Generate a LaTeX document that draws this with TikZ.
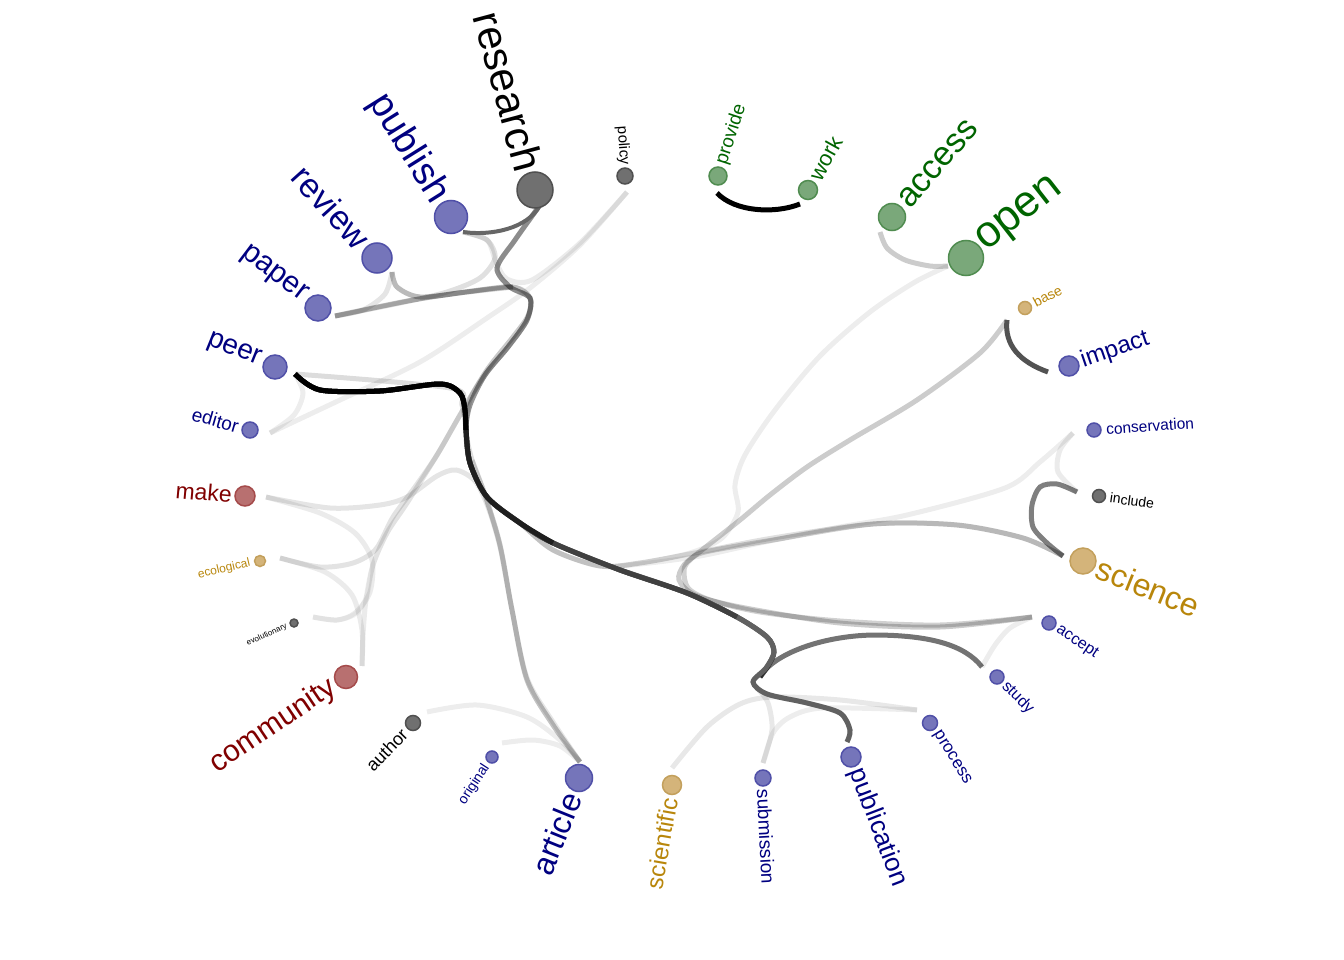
\documentclass[tikz,border=0pt]{standalone}
\usepackage{fontspec}
\setmainfont{Liberation Sans}
\usetikzlibrary{calc}
\definecolor{bfill}{RGB}{117,117,186}\definecolor{bdraw}{RGB}{80,80,168}
\definecolor{gfill}{RGB}{112,112,112}\definecolor{gdraw}{RGB}{80,80,80}
\definecolor{nfill}{RGB}{122,168,122}\definecolor{ndraw}{RGB}{80,140,80}
\definecolor{ofill}{RGB}{212,180,122}\definecolor{odraw}{RGB}{195,160,92}
\definecolor{rfill}{RGB}{184,112,112}\definecolor{rdraw}{RGB}{165,75,75}
\definecolor{tblue}{RGB}{0,0,128}\definecolor{tgreen}{RGB}{0,100,0}
\definecolor{tgold}{RGB}{184,134,11}\definecolor{tred}{RGB}{128,0,0}
\newcommand\labL[6]{\node[lab,text=#6,font=\fontsize{#5}{#5}\selectfont,rotate=#2,anchor=east] (#1-t) at ($(#1)+({180-(#2)}:#3)$) {#4};}
\newcommand\labR[6]{\node[lab,text=#6,font=\fontsize{#5}{#5}\selectfont,rotate=#2,anchor=west] (#1-t) at ($(#1)+({-(#2)}:#3)$) {#4};}
\tikzset{
  lab/.style={inner sep=0pt},
  dot/.style={circle,inner sep=0pt,line width=1.5pt},
  nb/.style={dot,fill=bfill,draw=bdraw},
  ng/.style={dot,fill=gfill,draw=gdraw},
  nn/.style={dot,fill=nfill,draw=ndraw},
  no/.style={dot,fill=ofill,draw=odraw},
  nr/.style={dot,fill=rfill,draw=rdraw},
  e/.style={line width=5pt,draw=black,draw opacity=#1},
  e/.default=0.2
}
\begin{document}
\begin{tikzpicture}[x=1pt,y=-1pt]
\useasboundingbox (0,0) rectangle (1344,960);
% edge end points
\coordinate (research-i) at (540,205);
\coordinate (publish-i) at (463,232);
\coordinate (review-i) at (392,272);
\coordinate (paper-i) at (335,316);
\coordinate (peer-i) at (295,374);
\coordinate (editor-i) at (270,433);
\coordinate (make-i) at (266,497);
\coordinate (ecological-i) at (280,558);
\coordinate (evolutionary-i) at (313,617);
\coordinate (community-i) at (362,666);
\coordinate (author-i) at (427,712);
\coordinate (original-i) at (502,743);
\coordinate (article-i) at (580,762);
\coordinate (scientific-i) at (672,768);
\coordinate (submission-i) at (763,763);
\coordinate (publication-i) at (847,742);
\coordinate (process-i) at (917,710);
\coordinate (study-i) at (982,667);
\coordinate (accept-i) at (1032,617);
\coordinate (science-i) at (1063,556);
\coordinate (include-i) at (1077,492);
\coordinate (conservation-i) at (1073,433);
\coordinate (impact-i) at (1048,372);
\coordinate (base-i) at (1007,320);
\coordinate (open-i) at (948,266);
\coordinate (access-i) at (880,232);
\coordinate (work-i) at (800,204);
\coordinate (provide-i) at (717,193);
\coordinate (policy-i) at (627,192);
\coordinate (sj) at (760,677);
% ---- light edges
\draw[e=0.07] plot[smooth] coordinates {(open-i) (915,282) (870,312) (820,356) (775,410) (745,455) (735,485) (738,512) (722,538) (690,553) (640,563) (600,566) (553,550) (520,523) (487,497) (470,463) (466,430) (462,405) (450,388) (peer-i)};
\draw[e=0.07] plot[smooth] coordinates {(conservation-i) (1040,462) (1005,488) (907,515) (840,527) (760,543) (700,556) (640,564) (600,566) (553,550) (520,523) (487,497) (470,463) (466,430) (462,405) (450,388) (peer-i)};
\draw[e=0.08] plot[smooth] coordinates {(conservation-i) (1060,450) (1058,472) (include-i)};
\draw[e=0.12] plot[smooth] coordinates {(science-i) (1023,538) (957,525) (873,524) (773,538) (700,552) (640,563) (600,566) (553,550) (520,523) (487,497) (470,463) (466,430)};
\draw[e=0.07] plot[smooth] coordinates {(editor-i) (340,400) (420,362) (487,318) (530,288) (580,245) (policy-i)};
\draw[e=0.08] plot[smooth] coordinates {(publish-i) (487,240) (496,262) (507,279) (532,280) (580,243) (policy-i)};
\draw[e=0.12] plot[smooth] coordinates {(publish-i) (487,240) (495,258) (480,278) (447,292) (400,303) (paper-i)};
\draw[e=0.1] plot[smooth] coordinates {(paper-i) (363,310) (385,294) (review-i)};
\draw[e=0.07] plot[smooth] coordinates {(peer-i) (303,393) (294,415) (editor-i)};
\draw[e=0.1] plot[smooth] coordinates {(make-i) (330,508) (380,505) (407,497) (437,476) (456,470) (475,481) (488,507) (500,547) (512,610) (527,678) (553,722) (article-i)};
\draw[e=0.08] plot[smooth] coordinates {(make-i) (320,513) (355,533) (372,560) (370,592) (355,613) (337,620) (evolutionary-i)};
\draw[e=0.08] plot[smooth] coordinates {(ecological-i) (325,572) (352,595) (362,630) (community-i)};
\draw[e=0.04] plot[smooth] coordinates {(evolutionary-i) (337,620) (357,613) (367,595) (373,565) (387,533) (407,503) (437,455) (460,415) (487,370) (513,337) (528,316) (530,298) (510,287) (497,268) (515,240) (research-i)};
\draw[e=0.11] plot[smooth] coordinates {(ecological-i) (320,567) (353,563) (376,549) (393,517) (415,487) (437,455) (460,415) (487,370) (513,337) (528,316) (530,298) (510,287) (497,268) (515,240) (research-i)};
\draw[e=0.08] plot[smooth] coordinates {(community-i) (363,635) (366,600) (373,565) (387,533) (407,503) (437,455) (460,415) (487,370) (513,337) (528,316) (530,298) (510,287) (497,268) (515,240) (research-i)};
\draw[e=0.07] plot[smooth] coordinates {(author-i) (477,705) (527,717) (560,740) (article-i)};
\draw[e=0.07] plot[smooth] coordinates {(original-i) (533,740) (560,746) (article-i)};
\draw[e=0.09] plot[smooth] coordinates {(scientific-i) (707,727) (740,704) (773,697) (840,700) (process-i)};
\draw[e=0.07] plot[smooth] coordinates {(submission-i) (773,733) (790,717) (823,708) (process-i)};
\draw[e=0.09] plot[smooth] coordinates {(submission-i) (772,730) (768,703) (757,688)};
\draw[e=0.07] plot[smooth] coordinates {(study-i) (995,645) (1010,628) (accept-i)};
% ---- medium edges
\draw[e=0.2] plot[smooth] coordinates {(access-i) (887,248) (905,260) (930,266) (open-i)};
\draw[e=0.2] plot[smooth] coordinates {(base-i) (980,353) (917,400) (850,440) (807,467) (770,495) (740,520) (702,550) (684,565) (679,580) (695,595) (740,607) (840,623) (940,627) (accept-i)};
\draw[e=0.18] plot[smooth] coordinates {(science-i) (1023,538) (957,525) (873,524) (773,540) (705,552) (690,560) (684,570) (688,588) (710,600) (760,612) (840,621) (940,625) (accept-i)};
\draw[e=0.13] plot[smooth] coordinates {(article-i) (553,725) (527,680) (512,610) (500,545) (485,495) (472,460) (466,430) (470,400) (487,372) (508,347) (527,320) (530,298) (510,287) (497,268) (515,240) (research-i)};
\draw[e=0.12] plot[smooth] coordinates {(article-i) (553,725) (527,680) (512,610) (500,545) (485,495) (472,460)};
\draw[e=0.14] plot[smooth] coordinates {(review-i) (397,287) (420,297) (467,292) (513,287) (530,298) (527,320) (508,347) (485,375) (470,405) (466,430) (470,463) (487,497) (520,523) (553,543) (620,570) (687,593) (737,617) (767,637) (774,652) (766,668) (753,682) (767,694) (807,703) (840,713) (850,730) (publication-i)};
\draw[e=0.15] plot[smooth] coordinates {(review-i) (397,287) (420,297) (467,292) (513,287)};
\draw[e=0.14] plot[smooth] coordinates {(paper-i) (413,300) (480,290) (513,287) (530,298) (527,320) (508,347) (485,375) (470,405) (466,430) (470,463) (487,497) (520,523) (553,543) (620,570) (687,593) (737,617) (767,637) (774,652) (768,666) (sj)};
\draw[e=0.15] plot[smooth] coordinates {(paper-i) (413,300) (480,290) (513,287)};
\draw[e=0.5] plot[smooth] coordinates {(include-i) (1057,484) (1040,487) (1032,505) (1033,527) (1047,543) (science-i)};
% research - study
\draw[e=0.2] plot[smooth] coordinates {(research-i) (515,240) (497,268) (510,287) (530,298) (527,320) (508,347) (485,375) (470,405) (466,430) (470,463) (487,497) (520,523) (553,543) (620,570)};
\draw[e=0.55] plot[smooth] coordinates {(620,570) (687,593) (737,617) (767,637) (774,652) (768,666) (sj)};
\draw[e=0.55] (sj) .. controls (772,655) and (820,636) .. (873,635) .. controls (930,635) and (965,645) .. (study-i);
% dark edges
\draw[line width=4pt,black!60] (publish-i) .. controls (490,236) and (528,229) .. (research-i);
\draw[line width=5pt,black!68] (base-i) .. controls (1004,345) and (1020,362) .. (impact-i);
\draw[line width=5pt,black] (provide-i) .. controls (735,212) and (775,214) .. (work-i);
% peer - publication with darkening gradient
\draw[line width=5pt,black!62] plot[smooth] coordinates {(peer-i) (320,390) (380,391) (440,384) (460,393) (465,410) (466,430) (470,463) (487,497) (520,523) (553,543) (620,570) (687,593) (737,617) (767,637) (774,652) (766,668) (753,682) (767,694) (807,703) (840,713) (850,730) (publication-i)};
\draw[line width=5pt,black!75] plot[smooth] coordinates {(peer-i) (320,390) (380,391) (440,384) (460,393) (465,410) (466,430) (470,463) (487,497) (520,523) (553,543) (620,570) (687,593) (737,617)};
\draw[line width=5pt,black!88] plot[smooth] coordinates {(peer-i) (320,390) (380,391) (440,384) (460,393) (465,410) (466,430) (470,463) (487,497) (520,523) (553,543)};
\draw[line width=5pt,black] plot[smooth] coordinates {(peer-i) (320,390) (380,391) (440,384) (460,393) (465,410) (466,430)};
% ---- nodes
\node[ng,minimum size=36pt] (research) at (535,190) {};
\node[ng,minimum size=16pt] (policy) at (625,176) {};
\node[nn,minimum size=18pt] (provide) at (718,176) {};
\node[nn,minimum size=19pt] (work) at (808,190) {};
\node[nn,minimum size=27pt] (access) at (892,217) {};
\node[nn,minimum size=35pt] (open) at (966,258) {};
\node[no,minimum size=13pt] (base) at (1025,308) {};
\node[nb,minimum size=20pt] (impact) at (1069,366) {};
\node[nb,minimum size=14pt] (conservation) at (1094,430) {};
\node[ng,minimum size=13pt] (include) at (1099,496) {};
\node[no,minimum size=26pt] (science) at (1083,561) {};
\node[nb,minimum size=14pt] (accept) at (1049,623) {};
\node[nb,minimum size=14pt] (study) at (997,677) {};
\node[nb,minimum size=15pt] (process) at (930,723) {};
\node[nb,minimum size=20pt] (publication) at (851,757) {};
\node[nb,minimum size=16pt] (submission) at (763,778) {};
\node[no,minimum size=19pt] (scientific) at (672,785) {};
\node[nb,minimum size=27pt] (article) at (579,778) {};
\node[nb,minimum size=12pt] (original) at (492,757) {};
\node[ng,minimum size=15pt] (author) at (413,723) {};
\node[nr,minimum size=23pt] (community) at (346,677) {};
\node[ng,minimum size=8pt] (evolutionary) at (294,623) {};
\node[no,minimum size=11pt] (ecological) at (260,561) {};
\node[nr,minimum size=20pt] (make) at (245,496) {};
\node[nb,minimum size=16pt] (editor) at (250,430) {};
\node[nb,minimum size=24pt] (peer) at (275,367) {};
\node[nb,minimum size=26pt] (paper) at (318,308) {};
\node[nb,minimum size=30pt] (review) at (377,258) {};
\node[nb,minimum size=33pt] (publish) at (451,217) {};
% ---- labels
\labL{research}{-75}{20}{research}{42}{black}
\labL{publish}{-58}{20}{publish}{38}{tblue}
\labL{review}{-48}{19}{review}{34}{tblue}
\labL{paper}{-37}{17}{paper}{30}{tblue}
\labL{peer}{-22}{16}{peer}{28}{tblue}
\labL{editor}{-16}{12}{editor}{19}{tblue}
\labL{make}{-5}{13}{make}{23}{tred}
\labL{ecological}{13}{10}{ecological}{12}{tgold}
\labL{evolutionary}{24}{8}{evolutionary}{8}{black}
\labL{community}{34}{15}{community}{30}{tred}
\labL{author}{46}{12}{author}{18}{black}
\labL{original}{57}{10}{original}{14}{tblue}
\labL{article}{68}{17}{article}{32}{tblue}
\labL{scientific}{80}{13}{scientific}{24}{tgold}
\labL{policy}{-86}{11}{policy}{15}{black}
\labR{submission}{-87}{11}{submission}{19}{tblue}
\labR{publication}{-69}{13}{publication}{26}{tblue}
\labR{process}{-58}{11}{process}{17}{tblue}
\labR{study}{-45}{10}{study}{16}{tblue}
\labR{accept}{-34}{10}{accept}{16}{tblue}
\labR{science}{-22}{16}{science}{32}{tgold}
\labR{include}{-8}{11}{include}{14}{black}
\labR{conservation}{4}{12}{conservation}{15.5}{tblue}
\labR{impact}{19}{13}{impact}{24}{tblue}
\labR{base}{28}{10}{base}{14}{tgold}
\labR{open}{38}{20}{open}{44}{tgreen}
\labR{access}{49}{17}{access}{34}{tgreen}
\labR{work}{61}{13}{work}{22}{tgreen}
\labR{provide}{72}{12}{provide}{19}{tgreen}
\end{tikzpicture}
\end{document}
